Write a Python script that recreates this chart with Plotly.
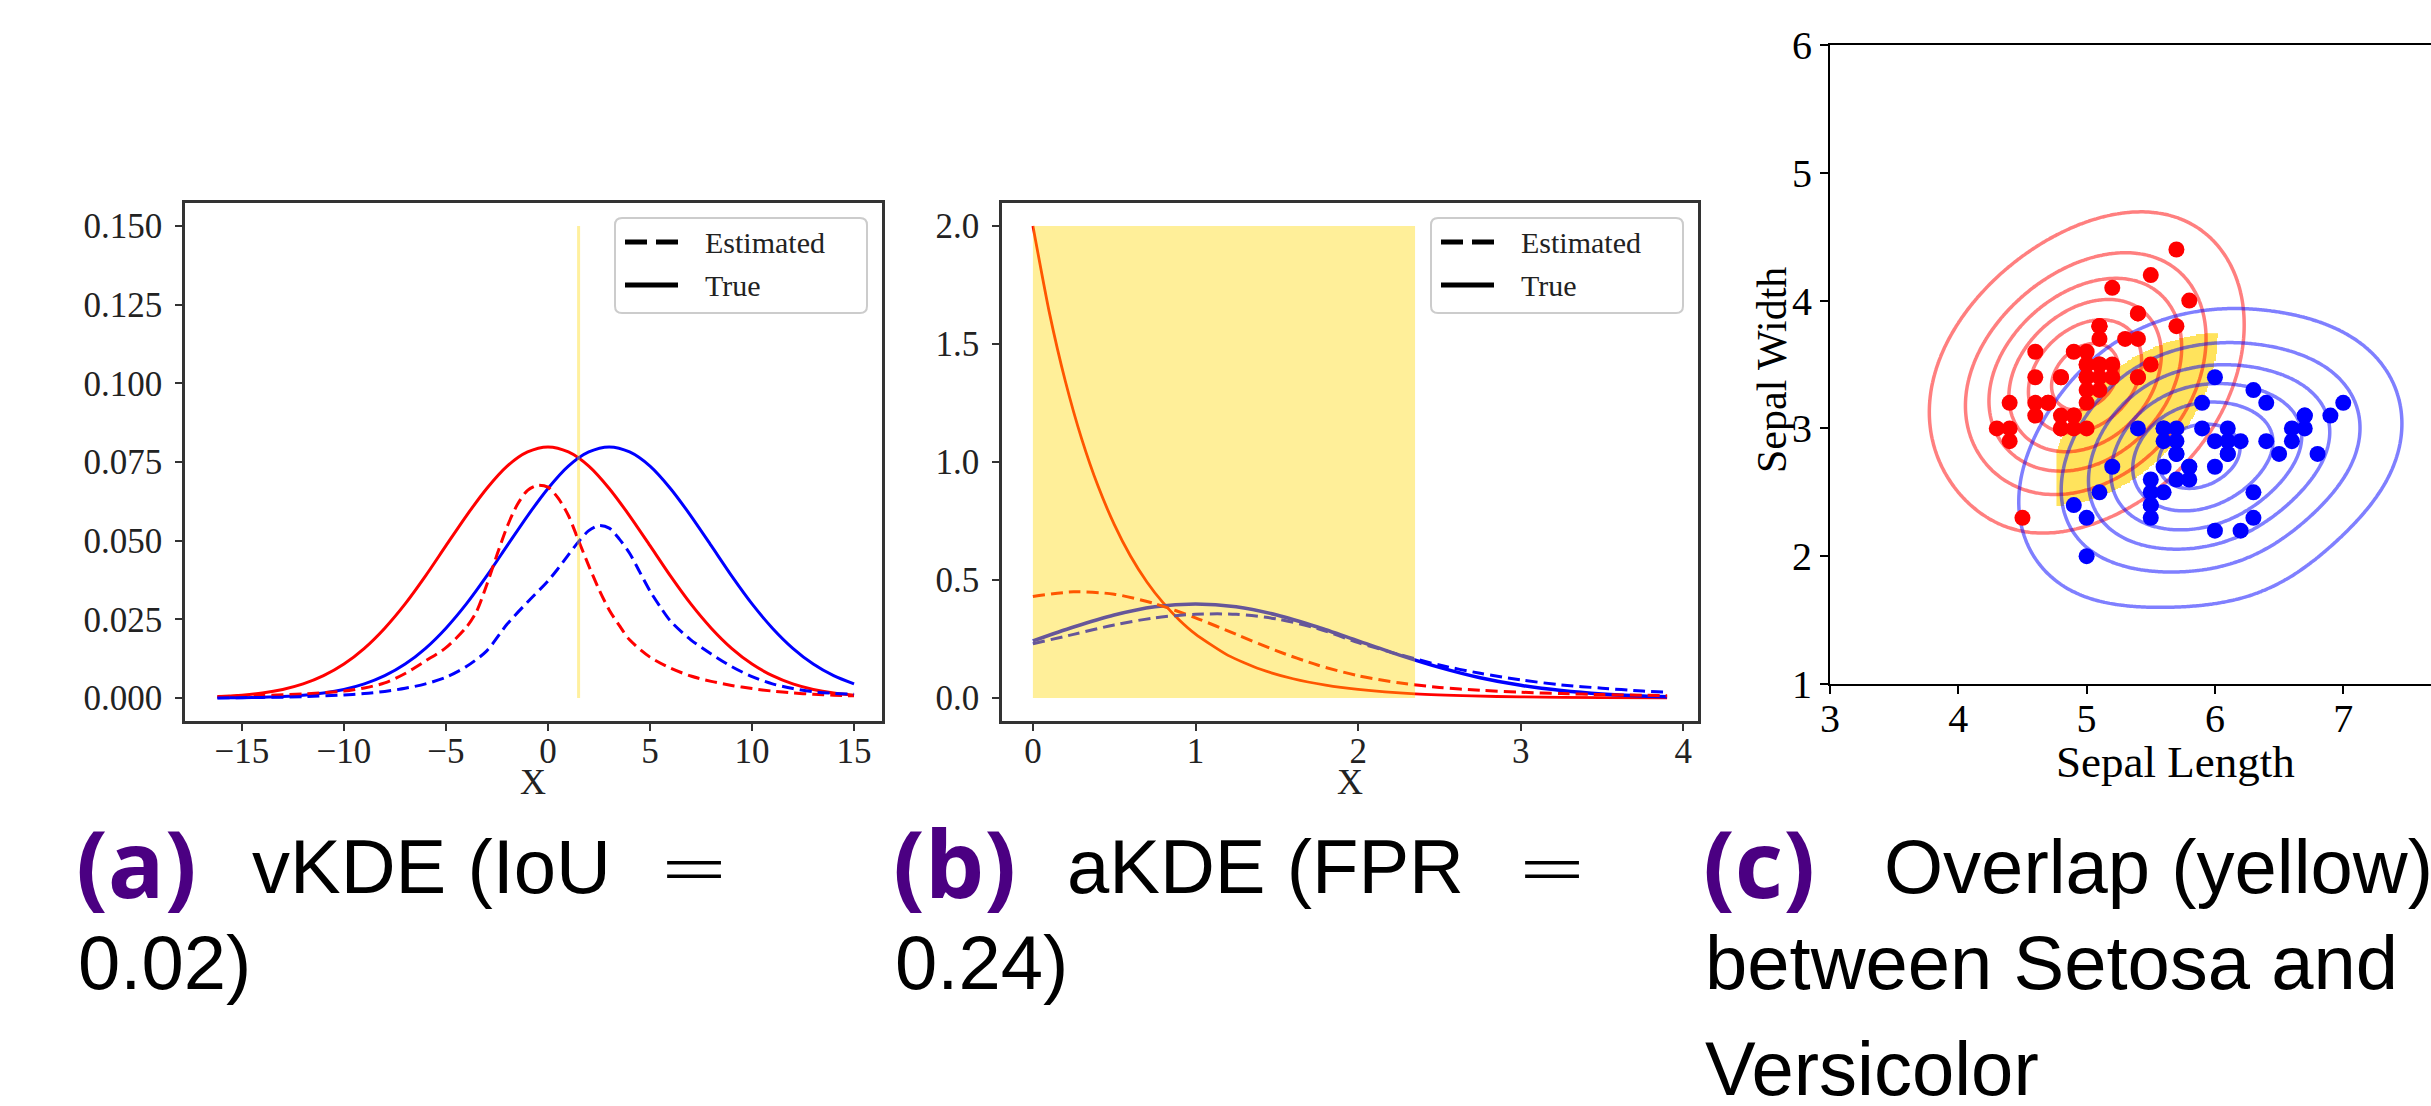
import numpy as np
import plotly.graph_objects as go

W, H = 2431, 1106

# ---------------- Panel (a) data: vKDE ----------------
xa_true = [-16.2, -16, -15, -14, -13, -12, -11, -10, -9, -8, -7, -6, -5, -4, -3, -2, -1, 0,
           1, 2, 3, 4, 5, 6, 7, 8, 9, 10, 11, 12, 13, 14, 15]
ya_red_true = [0.00042, 0.000477, 0.000886, 0.00158, 0.00272, 0.00448, 0.0071, 0.0108, 0.0158, 0.0222,
               0.0299, 0.0388, 0.0484, 0.0579, 0.0666, 0.0737, 0.0782, 0.0798,
               0.0782, 0.0737, 0.0666, 0.0579, 0.0484, 0.0388, 0.0299, 0.0222, 0.0158, 0.0108,
               0.0071, 0.00448, 0.00272, 0.00158, 0.000886]
ya_blue_true = [0.00005, 0.00006, 0.00012, 0.00025, 0.000477, 0.000886, 0.00158, 0.00272, 0.00448, 0.0071,
                0.0108, 0.0158, 0.0222, 0.0299, 0.0388, 0.0484, 0.0579, 0.0666,
                0.0737, 0.0782, 0.0798, 0.0782, 0.0737, 0.0666, 0.0579, 0.0484, 0.0388, 0.0299,
                0.0222, 0.0158, 0.0108, 0.0071, 0.00448]
xa_red_est = [-16.2, -14, -12, -10, -9, -8, -7, -6, -5, -4, -3.5, -3, -2.5, -2, -1.5, -1, -0.5, 0,
              0.5, 1, 1.5, 2, 2.5, 3, 3.5, 4, 5, 6, 7, 8, 9, 10, 11, 12, 13, 14, 15]
ya_red_est = [0.0005, 0.0008, 0.0013, 0.0022, 0.0032, 0.0048, 0.0078, 0.0118, 0.0160, 0.0225, 0.0275,
              0.0360, 0.0455, 0.0545, 0.0615, 0.0660, 0.0676, 0.0670, 0.0635, 0.0580, 0.0500,
              0.0420, 0.0345, 0.0280, 0.0230, 0.0185, 0.0130, 0.0095, 0.0070, 0.0053, 0.0040,
              0.0030, 0.0022, 0.0016, 0.0012, 0.0009, 0.0007]
xa_blue_est = [-16.2, -14, -12, -10, -9, -8, -7, -6, -5, -4, -3, -2, -1, 0, 0.5, 1, 1.5, 2, 2.5,
               3, 3.5, 4, 4.5, 5, 5.5, 6, 7, 8, 9, 10, 11, 12, 13, 14, 15]
ya_blue_est = [0.0000, 0.0002, 0.0004, 0.0010, 0.0014, 0.0021, 0.0031, 0.0045, 0.0066, 0.0100,
               0.0150, 0.0235, 0.0305, 0.0372, 0.0412, 0.0455, 0.0497, 0.0532, 0.0548, 0.0540,
               0.0505, 0.0460, 0.0400, 0.0340, 0.0290, 0.0245, 0.0185, 0.0140, 0.0100, 0.0068,
               0.0045, 0.0030, 0.0020, 0.0015, 0.0012]
a_threshold_x = 1.5
a_threshold_ymax = 0.15

# ---------------- Panel (b) data: aKDE ----------------
xb_red_true = [0, 0.1, 0.2, 0.3, 0.4, 0.5, 0.6, 0.7, 0.8, 0.9, 1.0, 1.2, 1.4, 1.6, 1.8, 2.0, 2.35,
               2.7, 3.0, 3.5, 3.9]
yb_red_true = [2.0, 1.637, 1.341, 1.098, 0.899, 0.736, 0.602, 0.493, 0.404, 0.331, 0.271, 0.181,
               0.122, 0.082, 0.055, 0.037, 0.018, 0.009, 0.005, 0.002, 0.0008]
xb = [0, 0.25, 0.5, 0.75, 1.0, 1.25, 1.5, 1.75, 2.0, 2.25, 2.5, 2.75, 3.0, 3.25, 3.5, 3.75, 3.9]
yb_blue_true = [0.242, 0.301, 0.352, 0.387, 0.399, 0.387, 0.352, 0.301, 0.242, 0.183, 0.130, 0.086,
                0.054, 0.032, 0.0175, 0.009, 0.006]
yb_red_est = [0.43, 0.45, 0.44, 0.40, 0.34, 0.27, 0.20, 0.14, 0.095, 0.065, 0.045, 0.033, 0.025,
              0.019, 0.015, 0.012, 0.010]
yb_blue_est = [0.23, 0.27, 0.31, 0.34, 0.355, 0.355, 0.335, 0.295, 0.235, 0.185, 0.14, 0.105,
               0.077, 0.056, 0.042, 0.030, 0.025]
b_region_x = [0, 2.35]
b_region_y = [0, 2.0]

# ---------------- Panel (c) data: Iris sepal measurements ----------------
setosa_len = [5.1, 4.9, 4.7, 4.6, 5.0, 5.4, 4.6, 5.0, 4.4, 4.9, 5.4, 4.8, 4.8, 4.3, 5.8, 5.7, 5.4, 5.1,
              5.7, 5.1, 5.4, 5.1, 4.6, 5.1, 4.8, 5.0, 5.0, 5.2, 5.2, 4.7, 4.8, 5.4, 5.2, 5.5, 4.9, 5.0,
              5.5, 4.9, 4.4, 5.1, 5.0, 4.5, 4.4, 5.0, 5.1, 4.8, 5.1, 4.6, 5.3, 5.0]
setosa_wid = [3.5, 3.0, 3.2, 3.1, 3.6, 3.9, 3.4, 3.4, 2.9, 3.1, 3.7, 3.4, 3.0, 3.0, 4.0, 4.4, 3.9, 3.5,
              3.8, 3.8, 3.4, 3.7, 3.6, 3.3, 3.4, 3.0, 3.4, 3.5, 3.4, 3.2, 3.1, 3.4, 4.1, 4.2, 3.1, 3.2,
              3.5, 3.6, 3.0, 3.4, 3.5, 2.3, 3.2, 3.5, 3.8, 3.0, 3.8, 3.2, 3.7, 3.3]
versi_len = [7.0, 6.4, 6.9, 5.5, 6.5, 5.7, 6.3, 4.9, 6.6, 5.2, 5.0, 5.9, 6.0, 6.1, 5.6, 6.7, 5.6, 5.8,
             6.2, 5.6, 5.9, 6.1, 6.3, 6.1, 6.4, 6.6, 6.8, 6.7, 6.0, 5.7, 5.5, 5.5, 5.8, 6.0, 5.4, 6.0,
             6.7, 6.3, 5.6, 5.5, 5.5, 6.1, 5.8, 5.0, 5.6, 5.7, 5.7, 6.2, 5.1, 5.7]
versi_wid = [3.2, 3.2, 3.1, 2.3, 2.8, 2.8, 3.3, 2.4, 2.9, 2.7, 2.0, 3.0, 2.2, 2.9, 2.9, 3.1, 3.0, 2.7,
             2.2, 2.5, 3.2, 2.8, 2.5, 2.8, 2.9, 3.0, 2.8, 3.0, 2.9, 2.6, 2.4, 2.4, 2.7, 2.7, 3.0, 3.4,
             3.1, 2.3, 3.0, 2.5, 2.6, 3.0, 2.6, 2.3, 2.7, 3.0, 2.9, 2.9, 2.5, 2.8]
kde_bandwidth = 0.45
contour_levels = (0.10, 0.90, 0.16)   # start, end, step (fraction of peak density)
overlap_level = 0.20
overlap_box_x = [4.77, 6.06]
overlap_box_y = [2.38, 3.74]

legend_labels = ["Estimated", "True"]


def kde(px, py, gx, gy, h):
    X, Y = np.meshgrid(gx, gy)
    Z = np.zeros_like(X)
    for a, b in zip(px, py):
        Z += np.exp(-((X - a) ** 2 + (Y - b) ** 2) / (2 * h * h))
    return Z


def px_x(p):
    return p / W


def px_y(p):
    return 1 - p / H


fig = go.Figure()

RED, BLUE = "#ff0000", "#0000ff"
DASH = "12px,6px"
SERIF = "Liberation Serif"


def line_trace(x, y, color, width, xa, ya, dash=None, smoothing=0.8):
    return go.Scatter(x=x, y=y, mode="lines",
                      line=dict(color=color, width=width, dash=dash, shape="spline", smoothing=smoothing),
                      xaxis=xa, yaxis=ya, showlegend=False, hoverinfo="skip")


# Panel (a)
fig.add_trace(line_trace(xa_true, ya_red_true, RED, 3, "x", "y"))
fig.add_trace(line_trace(xa_true, ya_blue_true, BLUE, 3, "x", "y"))
fig.add_trace(line_trace(xa_red_est, ya_red_est, RED, 3, "x", "y", DASH))
fig.add_trace(line_trace(xa_blue_est, ya_blue_est, BLUE, 3, "x", "y", DASH))
fig.add_trace(go.Scatter(x=[a_threshold_x, a_threshold_x], y=[0, a_threshold_ymax], mode="lines",
                         line=dict(color="rgba(255,215,0,0.38)", width=3),
                         xaxis="x", yaxis="y", showlegend=False, hoverinfo="skip"))

# Panel (b)
fig.add_trace(line_trace(xb_red_true, yb_red_true, RED, 2.8, "x2", "y2", smoothing=0.6))
fig.add_trace(line_trace(xb, yb_blue_true, BLUE, 3.5, "x2", "y2"))
fig.add_trace(line_trace(xb, yb_red_est, RED, 3, "x2", "y2", DASH))
fig.add_trace(line_trace(xb, yb_blue_est, BLUE, 3, "x2", "y2", DASH))

# Panel (c)
gx = np.arange(2.5, 8.6, 0.02)
gy = np.arange(0.5, 6.01, 0.02)
zr = kde(setosa_len, setosa_wid, gx, gy, kde_bandwidth)
zb = kde(versi_len, versi_wid, gx, gy, kde_bandwidth)
zr_max, zb_max = zr.max(), zb.max()

ox = np.arange(overlap_box_x[0], overlap_box_x[1] + 1e-9, 0.01)
oy = np.arange(overlap_box_y[0], overlap_box_y[1] + 1e-9, 0.01)
zo = np.minimum(kde(setosa_len, setosa_wid, ox, oy, kde_bandwidth) / zr_max,
                kde(versi_len, versi_wid, ox, oy, kde_bandwidth) / zb_max)
mask = np.where(zo >= overlap_level, 1.0, np.nan)
fig.add_trace(go.Heatmap(x=ox, y=oy, z=mask, xaxis="x3", yaxis="y3", showscale=False, hoverinfo="skip",
                         colorscale=[[0, "#ffe35c"], [1, "#ffe35c"]], zsmooth=False))

for z, zm, col in ((zr, zr_max, "rgba(255,0,0,0.5)"), (zb, zb_max, "rgba(0,0,255,0.5)")):
    fig.add_trace(go.Contour(x=gx, y=gy, z=z / zm, xaxis="x3", yaxis="y3", showscale=False, hoverinfo="skip",
                             showlegend=False,
                             contours=dict(coloring="none", start=contour_levels[0], end=contour_levels[1],
                                           size=contour_levels[2]),
                             line=dict(color=col, width=3.5, smoothing=1)))

fig.add_trace(go.Scatter(x=setosa_len, y=setosa_wid, mode="markers", marker=dict(color=RED, size=16),
                         xaxis="x3", yaxis="y3", showlegend=False, hoverinfo="skip"))
fig.add_trace(go.Scatter(x=versi_len, y=versi_wid, mode="markers", marker=dict(color=BLUE, size=16),
                         xaxis="x3", yaxis="y3", showlegend=False, hoverinfo="skip"))

# ---------------- axes ----------------
ax_common = dict(showline=True, linecolor="#333333", linewidth=2.5, mirror=True, ticks="outside",
                 ticklen=7, tickwidth=2, tickcolor="#333333", showgrid=False, zeroline=False, automargin=False,
                 tickfont=dict(family=SERIF, size=35, color="#222222"))
top_a, bot_a = 203, 721
ax_c = dict(showline=True, linecolor="black", linewidth=2, ticks="outside", ticklen=8, automargin=False,
            tickwidth=2, tickcolor="black", showgrid=False, zeroline=False,
            tickfont=dict(family=SERIF, size=40, color="black"))
fig.update_layout(
    xaxis=dict(domain=[px_x(185), px_x(882)], range=[-17.79, 16.37], tickvals=[-15, -10, -5, 0, 5, 10, 15],
               ticktext=["\u221215", "\u221210", "\u22125", "0", "5", "10", "15"], anchor="y",
               ticklabelstandoff=-10, **ax_common),
    yaxis=dict(domain=[px_y(bot_a), px_y(top_a)], range=[-0.0073, 0.1573],
               tickvals=[0, 0.025, 0.05, 0.075, 0.1, 0.125, 0.15],
               ticktext=["0.000", "0.025", "0.050", "0.075", "0.100", "0.125", "0.150"], anchor="x",
               ticklabelstandoff=6, **ax_common),
    xaxis2=dict(domain=[px_x(1002), px_x(1698)], range=[-0.19, 4.09], tickvals=[0, 1, 2, 3, 4], anchor="y2",
                ticklabelstandoff=-10, **ax_common),
    yaxis2=dict(domain=[px_y(bot_a), px_y(top_a)], range=[-0.097, 2.097], tickvals=[0, 0.5, 1, 1.5, 2],
                ticktext=["0.0", "0.5", "1.0", "1.5", "2.0"], anchor="x2", ticklabelstandoff=6, **ax_common),
    xaxis3=dict(domain=[px_x(1830), 1.0], range=[3, 7.684], tickvals=[3, 4, 5, 6, 7], anchor="y3",
                mirror=True, ticklabelstandoff=-10, **ax_c),
    yaxis3=dict(domain=[px_y(684), px_y(45)], range=[1, 6], tickvals=[1, 2, 3, 4, 5, 6], anchor="x3",
                mirror=False, **ax_c),
)

# overlap region in (b), drawn above the curves with transparency
fig.add_shape(type="rect", xref="x2", yref="y2", x0=b_region_x[0], x1=b_region_x[1], y0=b_region_y[0], y1=b_region_y[1],
              fillcolor="rgba(255,215,0,0.40)", line=dict(width=0), layer="above")

# ---------------- hand-drawn legends (box, samples, labels) ----------------
ann = []


def text(x, y, s, size, family, color="black", xanchor="left", yanchor="middle", angle=0, weight=None):
    f = dict(size=size, family=family, color=color)
    if weight is not None:
        f["weight"] = weight
    ann.append(dict(x=px_x(x), y=px_y(y), xref="paper", yref="paper", text=s, showarrow=False,
                    xanchor=xanchor, yanchor=yanchor, textangle=angle, font=f))


def rounded_box(x0, y0, x1, y1, r=7):
    X0, X1 = px_x(x0), px_x(x1)
    Y0, Y1 = px_y(y0), px_y(y1)
    rx, ry = r / W, r / H
    return (f"M{X0+rx},{Y0} L{X1-rx},{Y0} Q{X1},{Y0} {X1},{Y0-ry} L{X1},{Y1+ry} Q{X1},{Y1} {X1-rx},{Y1} "
            f"L{X0+rx},{Y1} Q{X0},{Y1} {X0},{Y1+ry} L{X0},{Y0-ry} Q{X0},{Y0} {X0+rx},{Y0} Z")


for bx in (615, 1431):
    fig.add_shape(type="path", xref="paper", yref="paper", path=rounded_box(bx, 218, bx + 252, 313),
                  fillcolor="white", line=dict(color="#cccccc", width=2), layer="above")
    for row, (lab, dash) in enumerate(zip(legend_labels, ["22px,9px", None])):
        yy = 242 + row * 43
        fig.add_shape(type="line", xref="paper", yref="paper", x0=px_x(bx + 10), x1=px_x(bx + 63),
                      y0=px_y(yy), y1=px_y(yy), line=dict(color="black", width=5, dash=dash), layer="above")
        text(bx + 88, yy, lab, 30, SERIF, "#222222")

# ---------------- text annotations ----------------
text(533, 782, "X", 36, SERIF, "#222222", xanchor="center")
text(1350, 782, "X", 36, SERIF, "#222222", xanchor="center")
text(2175, 762, "Sepal Length", 45, SERIF, xanchor="center")
text(1772, 370, "Sepal Width", 42, SERIF, xanchor="center", angle=-90)

CAP = "Liberation Sans"
LAB = "Open Sans"
EQ = "DejaVu Sans"
PURPLE = "#4b0082"
CS = 76
PS = 94
ES = 86
L1, L2, L3 = 866, 962, 1068
LP = 862
# (a)
text(74, LP, "<b>(a)</b>", PS, LAB, PURPLE)
text(250, L1, "vKDE (IoU", CS, CAP)
text(656, L1, "=", ES, EQ, weight=200)
text(76, L2, "0.02)", CS, CAP)
# (b)
text(891, LP, "<b>(b)</b>", PS, LAB, PURPLE)
text(1065, L1, "aKDE (FPR", CS, CAP)
text(1514, L1, "=", ES, EQ, weight=200)
text(893, L2, "0.24)", CS, CAP)
# (c)
text(1701, LP, "<b>(c)</b>", PS, LAB, PURPLE)
text(1882, L1, "Overlap (yellow)", CS, CAP)
text(1703, L2, "between Setosa and", CS, CAP)
text(1703, L3, "Versicolor", CS, CAP)

fig.update_layout(annotations=ann, width=W, height=H, margin=dict(l=0, r=0, t=0, b=0, autoexpand=False),
                  paper_bgcolor="white", plot_bgcolor="white", showlegend=False)

fig.write_html("out.html")
